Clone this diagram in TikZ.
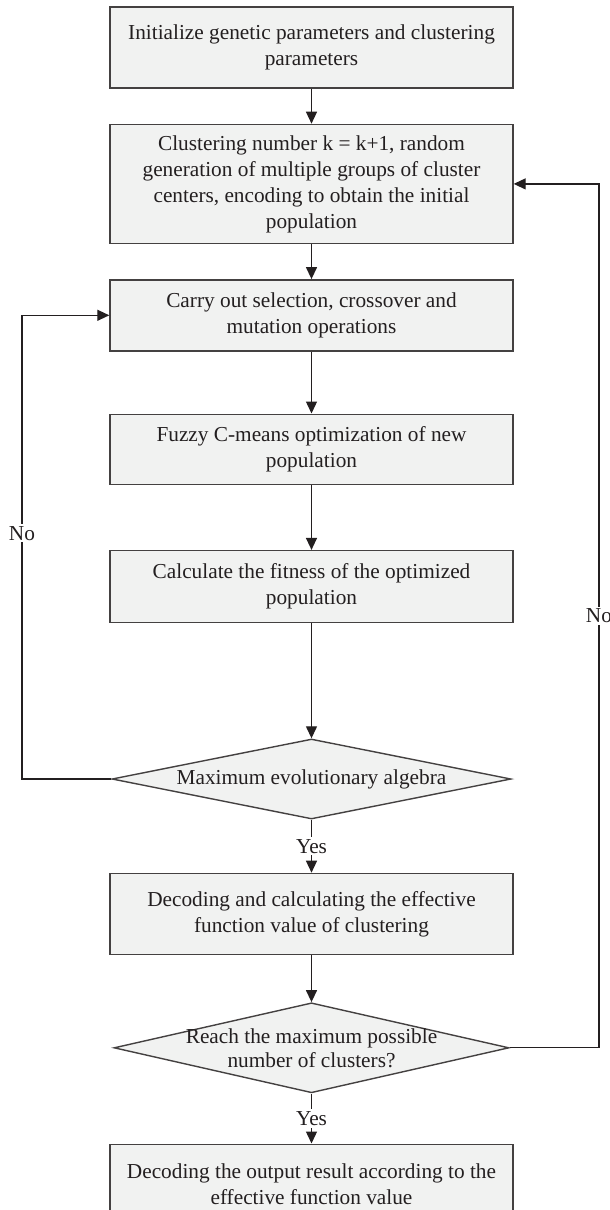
\documentclass[tikz,border=0pt]{standalone}
\usepackage{fontspec}
\setmainfont{Liberation Serif}
\usepackage{xcolor}
\usetikzlibrary{positioning,shapes.geometric,arrows.meta}

\definecolor{boxfill}{HTML}{F1F2F1}
\definecolor{inkdark}{HTML}{231F20}

\begin{document}
\begin{tikzpicture}[x=1pt,y=1pt]
      \tikzstyle{process_box}=[draw=inkdark!85, line width=1.4pt, fill=boxfill, minimum width=403pt, align=center, inner sep=2pt, text=inkdark, font=\fontsize{21.3}{26}\selectfont]
      \tikzstyle{decision_box}=[process_box, diamond, shape aspect=5, inner sep=0pt]
      \tikzstyle{flow_line}=[draw=inkdark, line width=1.3pt, -{Triangle[length=12pt,width=11pt]}]
      \tikzstyle{branch_text}=[fill=white, inner sep=2pt, text=inkdark, font=\fontsize{21.3}{26}\selectfont]
      \tikzstyle{diamond_text}=[align=center, text=inkdark, font=\fontsize{21.3}{24}\selectfont]

      \useasboundingbox (0,0) rectangle (610,-1210);

      % main column
      \node (init) [process_box, minimum height=81pt] at (311.5,-47.5) {Initialize genetic parameters and clustering\\parameters};
      \node (kplus) [process_box, minimum height=119pt, below=35pt of init] {Clustering number k = k+1, random\\generation of multiple groups of cluster\\centers, encoding to obtain the initial\\population};
      \node (select) [process_box, minimum height=71pt, below=35pt of kplus] {Carry out selection, crossover and\\mutation operations};
      \node (fuzzy) [process_box, minimum height=70pt, below=62pt of select] {Fuzzy C-means optimization of new\\population};
      \node (fitness) [process_box, minimum height=72pt, below=65pt of fuzzy] {Calculate the fitness of the optimized\\population};
      \node (evol) [decision_box, minimum width=399pt, minimum height=80pt, below=115pt of fitness] {Maximum evolutionary algebra};
      \node (decode) [process_box, minimum height=81pt, below=53pt of evol] {Decoding and calculating the effective\\function value of clustering};
      \node (reach) [decision_box, minimum width=395pt, minimum height=90pt, below=47pt of decode,
        label={[diamond_text]center:Reach the maximum possible\\number of clusters?}] {};
      \node (output) [process_box, minimum height=79pt, below=50pt of reach] {Decoding the output result according to the\\effective function value};

      % return rails
      \coordinate (left_rail) at (22,0);
      \coordinate (right_rail) at (599,0);

      \draw[flow_line] (init) -- (kplus);
      \draw[flow_line] (kplus) -- (select);
      \draw[flow_line] (select) -- (fuzzy);
      \draw[flow_line] (fuzzy) -- (fitness);
      \draw[flow_line] (fitness) -- (evol);
      \draw[flow_line] (evol.south) -- node[branch_text] {Yes} (decode.north);
      \draw[flow_line] (decode) -- (reach);
      \draw[flow_line] (reach.south) -- node[branch_text] {Yes} (output.north);

      \draw[flow_line] (evol.west) -- (evol.west -| left_rail) -- node[branch_text, pos=0.53] {No} (select.west -| left_rail) -- (select.west);
      \draw[flow_line] (reach.east) -- (reach.east -| right_rail) -- node[branch_text] {No} (kplus.east -| right_rail) -- (kplus.east);
\end{tikzpicture}
\end{document}
